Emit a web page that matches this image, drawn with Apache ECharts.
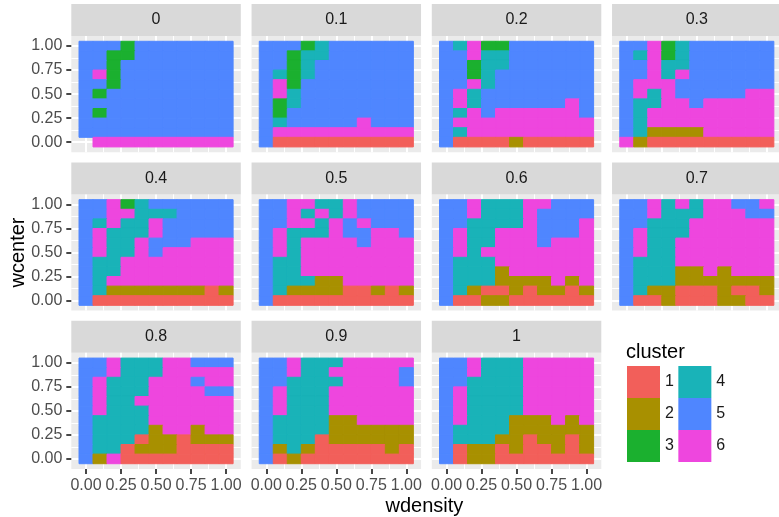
<!DOCTYPE html>
<html><head><meta charset="utf-8">
<script src="https://cdn.jsdelivr.net/npm/echarts@6/dist/echarts.min.js"></script>
<style>html,body{margin:0;padding:0;background:#fff}#c{width:779px;height:517px}</style>
</head><body><div id="c"></div>
<script>
// ---------------- data ----------------
const facets = ['0', '0.1', '0.2', '0.3', '0.4', '0.5', '0.6', '0.7', '0.8', '0.9', '1'];
const wdensity = [0, 0.1, 0.2, 0.3, 0.4, 0.5, 0.6, 0.7, 0.8, 0.9, 1.0];
const wcenter = [1.0, 0.9, 0.8, 0.7, 0.6, 0.5, 0.4, 0.3, 0.2, 0.1, 0.0]; // row order, top to bottom
const clusterNames = ['1', '2', '3', '4', '5', '6'];
const xBreaks = [0, 0.25, 0.5, 0.75, 1];
const xMinorBreaks = [0.125, 0.375, 0.625, 0.875];
const yBreaks = [0, 0.25, 0.5, 0.75, 1];
const yMinorBreaks = [0.125, 0.375, 0.625, 0.875];

// each string = one wcenter row (1.0 at top), each char = cluster at wdensity 0..1; '.' = no tile
const cluster_0 = ["55535555555","55335555555","55355555555","56355555555","55355555555","53555555555","55555555555","53555555555","55555555555","55555555555",".6666666666"];
const cluster_01 = ["55534555555","55344555555","55345555555","54345555555","56355555555","56455555555","53455555555","53555555555","54555556555","56666666666","51111111111"];
const cluster_02 = ["54633555555","55644555555","55344555555","55345555555","55645555555","56455555555","56455555565","54656666665","56666666666","54666666666","51111211111"];
const cluster_03 = ["55634555555","54634555555","55644555555","55646555555","56665555555","56465555566","54466566666","54666666666","54666666666","54222266666","62111111111"];
const cluster_04 = ["55634555555","55664445555","54644655555","56444655555","56446555666","56446566666","54466666666","54466666666","54666666666","54222222212","51111111111"];
const cluster_05 = ["55664465555","55646465555","55664656555","56444655665","56466665666","56466666666","54466666666","54466666666","54442266666","54222211212","51111111111"];
const cluster_06 = ["55644466555","55644465555","55444465556","56446665556","56446665666","56466666666","54446666666","54442666666","54442222626","54211212212","51122111111"];
const cluster_07 = ["55646466556","55644466655","55444666666","56444666666","56446666666","56446666666","54446666666","54442262666","54442222222","54221112112","51121112211"];
const cluster_08 = ["55644466555","55644466666","56444666566","56444666655","56446666666","56444666666","54444666666","54444266266","54441221222","54412221111","52611111111"];
const cluster_09 = ["55644466666","55644666665","55444466665","56444666666","56444666666","56444666666","54444226666","54444222222","54441222222","52421111121","51211111111"];
const cluster_1 = ["55644466666","55644466666","55444466666","56444466666","56444466666","56444466666","56444222626","54444222222","54442212212","51221211212","51221111111"];
const panelGrids = [cluster_0, cluster_01, cluster_02, cluster_03, cluster_04, cluster_05, cluster_06, cluster_07, cluster_08, cluster_09, cluster_1];

// ---------------- style / layout ----------------
const COLORS = ['#F25F5A', '#A89000', '#1BB02F', '#19B3B8', '#4F86FF', '#EE46DE'];
const FONT = '"Liberation Sans", Arial, Helvetica, sans-serif';
const NCOL = 4;
const P_LEFT0 = 71.3, P_STEP_X = 180.25, P_W = 169.5;
const P_TOP0 = 36, P_STEP_Y = 158.4, P_H = 116.2;
const STRIP_H = 32;
const HALF = 0.05;           // half tile size in data units (data spacing 0.1)
const AX_MIN = -0.105, AX_MAX = 1.105;
const NROW = Math.ceil(facets.length / NCOL);

function panelBox(i) {
  const c = i % NCOL, r = Math.floor(i / NCOL);
  return {left: P_LEFT0 + c * P_STEP_X, top: P_TOP0 + r * P_STEP_Y, col: c, row: r};
}

const grids = [], xAxes = [], yAxes = [], series = [], graphics = [];

function renderTile(params, api) {
  const x = api.value(0), y = api.value(1), k = api.value(2);
  const a = api.coord([x - HALF, y + HALF]);
  const b = api.coord([x + HALF, y - HALF]);
  const col = COLORS[k - 1];
  return {type: 'rect', shape: {x: a[0], y: a[1], width: b[0] - a[0], height: b[1] - a[1]},
          style: {fill: col, stroke: col, lineWidth: 1}};
}

function axisCommon(i) {
  return {type: 'value', gridIndex: i, min: AX_MIN, max: AX_MAX,
          axisLine: {show: false, onZero: false}};
}

facets.forEach((f, i) => {
  const b = panelBox(i);
  grids.push({left: b.left, top: b.top, width: P_W, height: P_H, show: true,
              backgroundColor: '#EBEBEB', borderWidth: 0, containLabel: false, outerBoundsMode: 'none'});
  const showX = b.row === NROW - 1, showY = b.col === 0;
  xAxes.push(Object.assign(axisCommon(i), {position: 'bottom',
    axisTick: {show: showX, customValues: xBreaks, length: 5, lineStyle: {color: '#333333', width: 1.8}},
    axisLabel: {show: showX, customValues: xBreaks, formatter: v => v.toFixed(2), color: '#4D4D4D',
                fontSize: 16, fontFamily: FONT, margin: 9, hideOverlap: false},
    splitLine: {show: true, lineStyle: {color: '#FFFFFF', width: 2}}}));
  xAxes.push(Object.assign(axisCommon(i), {position: 'top',
    axisTick: {show: false, customValues: xMinorBreaks},
    axisLabel: {show: false, customValues: xMinorBreaks},
    splitLine: {show: true, lineStyle: {color: '#FFFFFF', width: 1}}}));
  yAxes.push(Object.assign(axisCommon(i), {position: 'left',
    axisTick: {show: showY, customValues: yBreaks, length: 5, lineStyle: {color: '#333333', width: 1.8}},
    axisLabel: {show: showY, customValues: yBreaks, formatter: v => v.toFixed(2), color: '#4D4D4D',
                fontSize: 16, fontFamily: FONT, margin: 9, hideOverlap: false},
    splitLine: {show: true, lineStyle: {color: '#FFFFFF', width: 2}}}));
  yAxes.push(Object.assign(axisCommon(i), {position: 'right',
    axisTick: {show: false, customValues: yMinorBreaks},
    axisLabel: {show: false, customValues: yMinorBreaks},
    splitLine: {show: true, lineStyle: {color: '#FFFFFF', width: 1}}}));

  const rows = panelGrids[i], data = [];
  rows.forEach((row, r) => {
    for (let c = 0; c < row.length; c++) {
      const ch = row[c];
      if (ch === '.') continue;
      data.push([wdensity[c], wcenter[r], Number(ch)]);
    }
  });
  series.push({type: 'custom', name: 'panel ' + f, xAxisIndex: 2 * i, yAxisIndex: 2 * i,
    renderItem: renderTile, encode: {x: 0, y: 1}, data: data, silent: true, z: 2});

  // strip
  graphics.push({type: 'rect', shape: {x: b.left, y: b.top - STRIP_H, width: P_W, height: STRIP_H},
                 style: {fill: '#D9D9D9'}, silent: true});
  graphics.push({type: 'text', x: b.left + P_W / 2, y: b.top - STRIP_H / 2,
                 style: {text: f, fill: '#1A1A1A', font: '16px ' + FONT, align: 'center', verticalAlign: 'middle'}});
});

// legend series (no data, only for legend keys) - attached to the last panel
const lastIdx = facets.length - 1;
clusterNames.forEach((n, k) => {
  series.push({type: 'custom', name: n, xAxisIndex: 2 * lastIdx, yAxisIndex: 2 * lastIdx,
               renderItem: () => null, data: [], itemStyle: {color: COLORS[k]}});
});

const lastRowTop = P_TOP0 + (NROW - 1) * P_STEP_Y;
graphics.push({type: 'text', x: (P_LEFT0 + 3 * P_STEP_X + P_W + P_LEFT0) / 2 - 2, y: 506,
  style: {text: 'wdensity', fill: '#000', font: '20px ' + FONT, align: 'center', verticalAlign: 'middle'}});
graphics.push({type: 'text', x: 18, y: (P_TOP0 + lastRowTop + P_H) / 2, rotation: Math.PI / 2,
  style: {text: 'wcenter', fill: '#000', font: '20px ' + FONT, align: 'center', verticalAlign: 'middle'}});
graphics.push({type: 'text', x: 626, y: 352,
  style: {text: 'cluster', fill: '#000', font: '20px ' + FONT, align: 'left', verticalAlign: 'middle'}});

const chart = echarts.init(document.getElementById('c'), null, {renderer: 'canvas'});
chart.setOption({
  animation: false,
  backgroundColor: '#FFFFFF',
  grid: grids, xAxis: xAxes, yAxis: yAxes, series: series,
  legend: {orient: 'vertical', left: 627, top: 366, height: 100, padding: 0, itemGap: 0,
    itemWidth: 33, itemHeight: 32, icon: 'rect', selectedMode: false,
    formatter: n => n + '\u00a0',
    textStyle: {fontSize: 16, color: '#1A1A1A', fontFamily: FONT},
    data: clusterNames},
  graphic: graphics
});
</script></body></html>
